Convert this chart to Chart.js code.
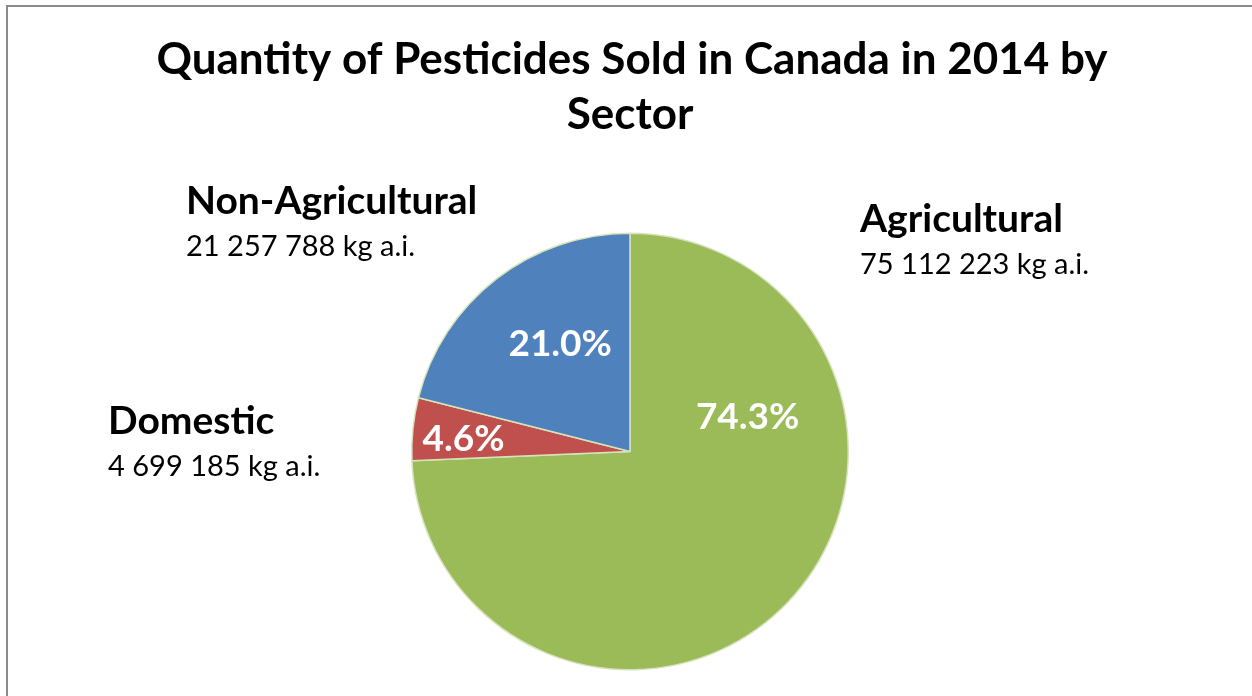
<!DOCTYPE html>
<html>
<head>
<meta charset="utf-8">
<script src="https://cdn.jsdelivr.net/npm/chart.js@4/dist/chart.umd.min.js"></script>
<style>
  html, body { margin: 0; padding: 0; background: #fff; }
  #wrap { position: relative; width: 1252px; height: 696px; overflow: hidden; background: #fff; }
  #frame { position: absolute; left: 6px; top: 5px; right: -10px; bottom: -10px; border-left: 2px solid #8a8a8a; border-top: 2px solid #8a8a8a; pointer-events: none; }
  canvas { position: absolute; left: 0; top: 0; }
</style>
</head>
<body>
<div id="wrap">
  <canvas id="c" width="1252" height="696"></canvas>
  <div id="frame"></div>
</div>
<script>
const titleLines = ["Quantity of Pesticides Sold in Canada in 2014 by", "Sector"];
const categories = ["Agricultural", "Domestic", "Non-Agricultural"];
const quantitiesKg = [75112223, 4699185, 21257788];
const sliceColors = ["#9BBB59", "#C0504D", "#4F81BD"];

// label placement (style/layout only)
const outerLabelPos = [
  { x: 860, y: 232, y2: 274 },   // Agricultural
  { x: 108, y: 434, y2: 476 },   // Domestic
  { x: 186, y: 214, y2: 256 }    // Non-Agricultural
];
const pctOffsetFrac = [[0.539, -0.160], [-0.763, -0.055], [-0.320, -0.493]];

const FONT = "Lato, 'Open Sans', sans-serif";

function fmtKg(v) {
  return String(v).replace(/\B(?=(\d{3})+(?!\d))/g, " ") + " kg a.i.";
}

const labelPlugin = {
  id: "labels",
  afterDatasetsDraw(chart) {
    const ctx = chart.ctx;
    const meta = chart.getDatasetMeta(0);
    const data = chart.data.datasets[0].data;
    const total = data.reduce((a, b) => a + b, 0);
    ctx.save();
    // percentages inside slices
    ctx.fillStyle = "#ffffff";
    ctx.font = "bold 37px " + FONT;
    ctx.textAlign = "center";
    ctx.textBaseline = "middle";
    meta.data.forEach((arc, i) => {
      const R = arc.outerRadius;
      const x = arc.x + pctOffsetFrac[i][0] * R;
      const y = arc.y + pctOffsetFrac[i][1] * R;
      ctx.fillText((data[i] / total * 100).toFixed(1) + "%", x, y);
    });
    // outer category labels
    ctx.fillStyle = "#000000";
    ctx.textAlign = "left";
    ctx.textBaseline = "alphabetic";
    categories.forEach((name, i) => {
      const p = outerLabelPos[i];
      ctx.font = "bold 39px " + FONT;
      ctx.fillText(name, p.x, p.y);
      ctx.font = "29px " + FONT;
      ctx.fillText(fmtKg(data[i]), p.x, p.y2);
    });
    // title
    ctx.textAlign = "center";
    ctx.font = "bold 44px " + FONT;
    ctx.fillText(titleLines[0], 632, 74);
    ctx.fillText(titleLines[1], 630, 129);
    ctx.restore();
  }
};

new Chart(document.getElementById("c"), {
  type: "pie",
  data: {
    labels: categories,
    datasets: [{
      data: quantitiesKg,
      backgroundColor: sliceColors,
      borderColor: "#d6e3bc",
      borderWidth: 1.5
    }]
  },
  options: {
    responsive: false,
    animation: false,
    layout: { padding: { top: 232, bottom: 25, left: 411, right: 403 } },
    plugins: {
      legend: { display: false },
      title: { display: false },
      tooltip: { enabled: false }
    }
  },
  plugins: [labelPlugin]
});
</script>
</body>
</html>
